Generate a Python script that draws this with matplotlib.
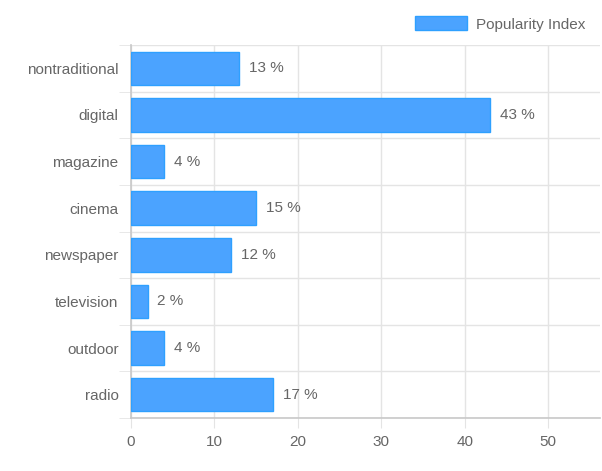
import matplotlib.pyplot as plt
from matplotlib.patches import Patch

categories = ["nontraditional", "digital", "magazine", "cinema",
              "newspaper", "television", "outdoor", "radio"]
popularity = [13, 43, 4, 15, 12, 2, 4, 17]
x_ticks = [0, 10, 20, 30, 40, 50]
series_name = "Popularity Index"

FILL = "#4ba3ff"
EDGE = "#2ea0ff"
TEXT = "#666666"
GRID = "#e4e4e4"

plt.rcParams["font.family"] = ["Liberation Sans", "DejaVu Sans"]

fig = plt.figure(figsize=(6.02, 4.71), dpi=100)
ax = fig.add_axes([131 / 602, 53 / 471, 469 / 602, 373 / 471])

ypos = list(range(len(categories)))
bars = ax.barh(ypos, popularity, height=0.72, color=FILL, edgecolor=EDGE,
               linewidth=1.0, zorder=3)

for b, v in zip(bars, popularity):
    ax.annotate(f"{v} %", (b.get_width(), b.get_y() + b.get_height() / 2),
                xytext=(7, 0), textcoords="offset points", va="center",
                ha="left", fontsize=11, color=TEXT)

ax.set_ylim(len(categories) - 0.5, -0.5)
ax.set_xlim(0, 56.2)
ax.set_yticks(ypos)
ax.set_yticklabels(categories)
ax.set_xticks(x_ticks)

# category grid lines between rows
ax.set_yticks([i - 0.5 for i in range(len(categories) + 1)], minor=True)
ax.grid(axis="y", which="minor", color=GRID, linewidth=1, zorder=0)
ax.grid(axis="x", which="major", color=GRID, linewidth=1, zorder=0)
ax.tick_params(axis="y", which="major", length=0, pad=9, labelsize=11,
               labelcolor=TEXT)
ax.tick_params(axis="y", which="minor", length=9, color=GRID)
ax.tick_params(axis="x", length=7, color=GRID, pad=5, labelsize=11,
               labelcolor=TEXT)

for side in ["top", "right"]:
    ax.spines[side].set_visible(False)
for side in ["left", "bottom"]:
    ax.spines[side].set_color("#c8c8c8")
    ax.spines[side].set_linewidth(1.2)

handle = Patch(facecolor=FILL, edgecolor=EDGE, linewidth=1.0)
fig.legend([handle], [series_name], loc="center left",
           bbox_to_anchor=(415 / 602, 1 - 24 / 471), frameon=False,
           handlelength=3.4, handleheight=1.0, handletextpad=0.6,
           fontsize=11, labelcolor=TEXT, borderpad=0, borderaxespad=0)

fig.savefig("out.png", dpi=100)
